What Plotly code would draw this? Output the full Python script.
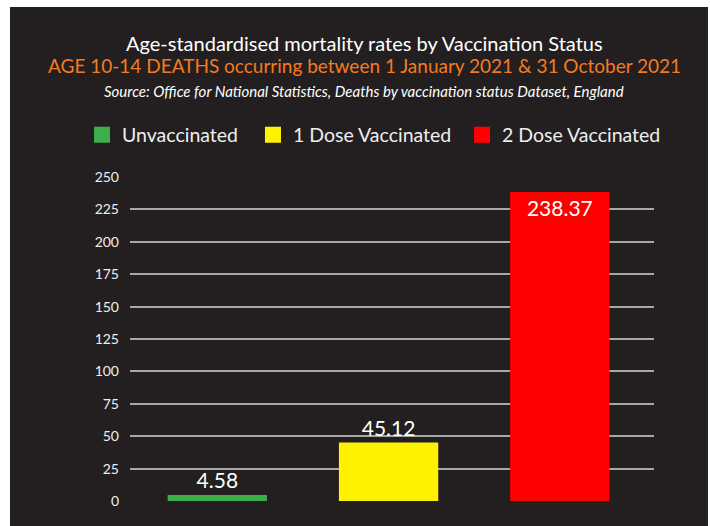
import plotly.graph_objects as go

categories = ["Unvaccinated", "1 Dose Vaccinated", "2 Dose Vaccinated"]
values = [4.58, 45.12, 238.37]
labels = ["4.58", "45.12", "238.37"]
colors = ["#3DAE49", "#FFF200", "#FF0000"]
tick_vals = [0, 25, 50, 75, 100, 125, 150, 175, 200, 225, 250]

title1 = "Age-standardised mortality rates by Vaccination Status"
title2 = "AGE 10-14 DEATHS occurring between 1 January 2021 & 31 October 2021"
title3 = "Source: Office for National Statistics, Deaths by vaccination status Dataset, England"

BG = "#231F20"
FONT = "Lato"

fig = go.Figure()
xs = list(range(len(categories)))
fig.add_trace(go.Bar(
    x=xs, y=values, marker=dict(color=colors, line=dict(width=0)),
    width=0.58, text=labels,
    textposition=["outside", "outside", "inside"],
    insidetextanchor="end", textangle=0,
    textfont=dict(color="white", size=21, family=FONT),
    cliponaxis=False, showlegend=False, hoverinfo="skip",
))
legend_names = ["legend", "legend2", "legend3"]
for name, c, lg in zip(categories, colors, legend_names):
    fig.add_trace(go.Scatter(
        x=[None], y=[None], mode="markers", name=name, legend=lg,
        marker=dict(symbol="square", size=18, color=c),
    ))

fig.add_shape(type="rect", xref="paper", yref="paper",
              x0=-0.229, x1=1.103, y0=-0.2, y1=1.5247,
              fillcolor=BG, line=dict(width=0), layer="below")

anns = [
    (title1, 1.4136, "white", 20, False),
    (title2, 1.3426, "#F47B20", 19, False),
    (title3, 1.265, "white", 15, True),
]
for t, y, col, sz, it in anns:
    fig.add_annotation(
        text=f"<i>{t}</i>" if it else t, xref="paper", yref="paper",
        x=0.4466, y=y, xanchor="center", yanchor="middle",
        showarrow=False, font=dict(color=col, size=sz, family=FONT),
    )

legend_x = [0.1155, 0.3563, 0.6507]
legend_layouts = {}
for lg, lx in zip(legend_names, legend_x):
    legend_layouts[lg] = dict(
        orientation="h", xref="container", x=lx, xanchor="left",
        yref="container", y=0.743, yanchor="middle",
        font=dict(size=19.5, color="#EEEEEE", family=FONT),
        bgcolor="rgba(0,0,0,0)", itemclick=False, itemdoubleclick=False,
    )

fig.update_layout(
    width=710, height=526,
    margin=dict(l=130, r=56, t=177, b=25, autoexpand=False),
    paper_bgcolor="white", plot_bgcolor="rgba(0,0,0,0)",
    font=dict(family=FONT, color="#EEEEEE"),
    bargap=0.42,
    xaxis=dict(range=[-0.51, 2.55], showticklabels=False, showgrid=False,
               zeroline=False, showline=False, ticks=""),
    yaxis=dict(range=[0, 250], tickvals=tick_vals, showgrid=True,
               gridcolor="#A8A8A8", gridwidth=1.5, zeroline=False, showline=False,
               tickfont=dict(size=14, color="#EEEEEE", family=FONT),
               ticklabelstandoff=10),
    **legend_layouts,
)

fig.write_html("out.html", config={"displayModeBar": False},
               post_script="document.body.style.margin='0';")
